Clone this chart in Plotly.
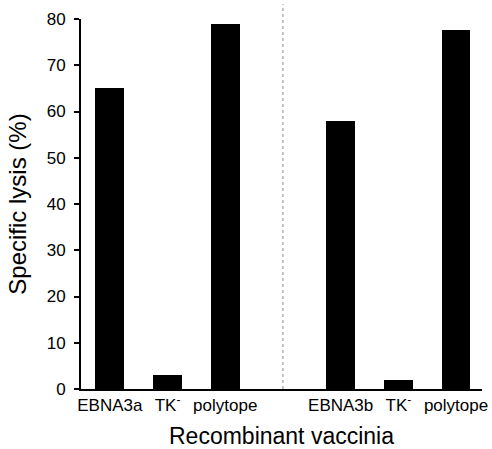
import plotly.graph_objects as go

# Specific lysis for each recombinant vaccinia, two target groups
categories = ["EBNA3a", "TK<sup>-</sup>", "polytope", "EBNA3b", "TK<sup>-</sup>", "polytope"]
positions = [0, 1, 2, 4, 5, 6]
lysis = [65, 3, 79, 58, 2, 77.6]
y_ticks = [0, 10, 20, 30, 40, 50, 60, 70, 80]
group_divider = 3

font_family = "Liberation Sans, Arial, sans-serif"

fig = go.Figure()
fig.add_trace(go.Bar(
    x=positions,
    y=lysis,
    width=0.5,
    marker=dict(color="black", line=dict(width=0)),
    showlegend=False,
))

# dotted separator between the two groups
fig.add_shape(
    type="line", xref="x", yref="paper",
    x0=group_divider, x1=group_divider, y0=0, y1=1.04,
    line=dict(color="#8a8a8a", width=1, dash="dot"),
    layer="below",
)

fig.update_layout(
    width=492, height=449,
    margin=dict(l=81, r=4, t=19, b=60),
    paper_bgcolor="white", plot_bgcolor="white",
    font=dict(family=font_family, color="black"),
    bargap=0,
)
fig.update_xaxes(
    range=[-0.5, 6.45],
    tickmode="array", tickvals=positions, ticktext=categories,
    ticks="", showgrid=False, zeroline=False,
    showline=True, linecolor="black", linewidth=2,
    tickfont=dict(size=17),
    ticklabeloverflow="allow",
    title=dict(text="Recombinant vaccinia", font=dict(size=23), standoff=13),
)
fig.update_yaxes(
    range=[0, 80],
    tickmode="array", tickvals=y_ticks,
    ticks="outside", ticklen=5, tickwidth=1.5, tickcolor="black",
    showgrid=False, zeroline=False,
    showline=True, linecolor="black", linewidth=2,
    tickfont=dict(size=17),
    ticklabelstandoff=5,
    title=dict(text="Specific lysis (%)", font=dict(size=24), standoff=13),
)

fig.write_html("out.html")
